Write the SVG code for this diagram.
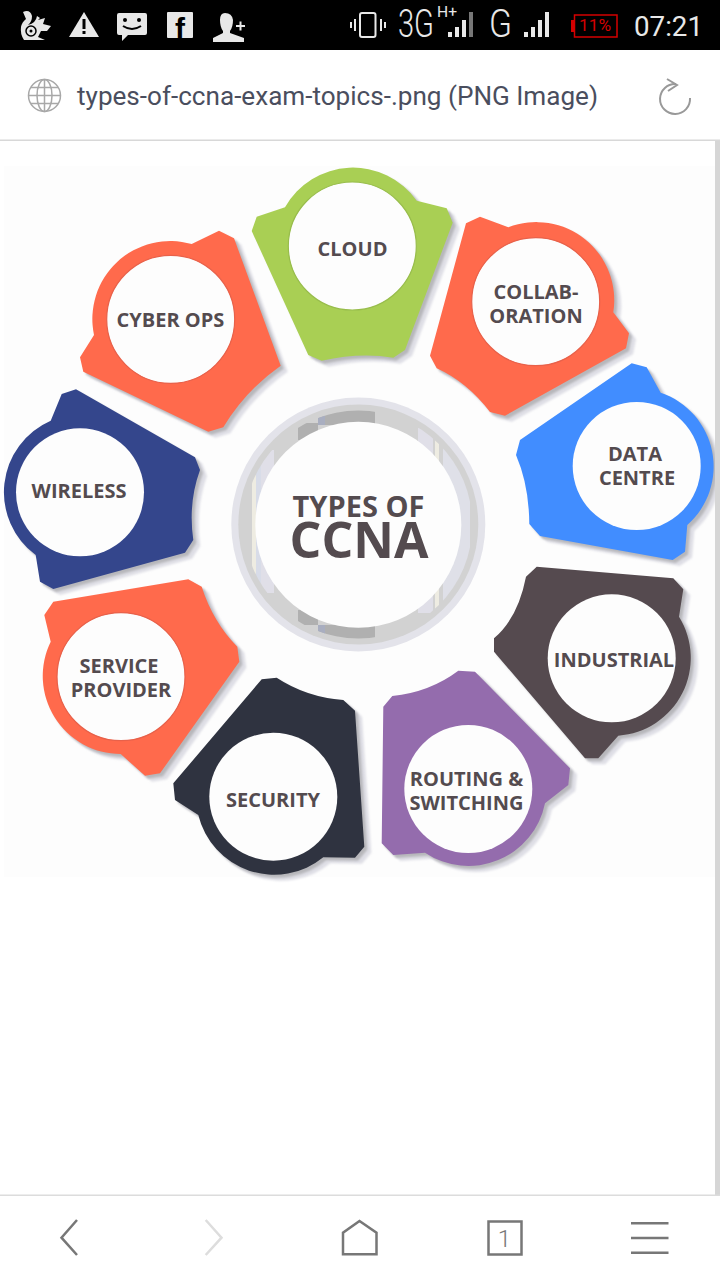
<svg xmlns="http://www.w3.org/2000/svg" xmlns:xlink="http://www.w3.org/1999/xlink" width="720" height="1280" viewBox="0 0 720 1280">
<style>
.lbl{font-family:"Open Sans","Liberation Sans",sans-serif;font-weight:700;font-size:20px;fill:#544b4f;text-anchor:middle}
.disc{fill:#fdfdfd}
.s1{fill:#dfdfe6;filter:url(#soft)}
.s2{fill:#b7b7bb;filter:url(#soft)}
.ui{font-family:Roboto,"Liberation Sans",sans-serif;fill:#e8e8e8}
.nav{fill:none;stroke:#777;stroke-width:2.500}
</style>
<defs>
<filter id="soft" x="-10%" y="-10%" width="120%" height="120%"><feGaussianBlur stdDeviation="0.8"/></filter>
<path id="p-cloud" d="M285 207.3A78 78 0 0 1 416.7 200.7L446.7 208.3L452.7 222.7L405 350L393.3 357.7Q360 352 321.7 360.7L308.3 355L251.7 231L256.7 216.7Z"/>
<path id="p-collab" d="M508.3 227.3A78 78 0 0 1 613.3 312.3L629 333.3L626 348.3L505 415.7L490 412Q467 382 436.7 368.3L430 355.7L466 223.3L480 216.7Z"/>
<path id="p-data" d="M660.7 392.7A78 78 0 0 1 687.3 525L685 551.7L672.7 560L540 536L529.3 524Q529 485 516 455L520 440L631.7 363.3L646.7 367.3Z"/>
<path id="p-ind" d="M679 616.7A78 78 0 0 1 618.3 735.7L598.3 758.3L585 758.3L494 651.7L494 638.3Q518 618 526 576.7L536.7 566.7L673.3 578.3L683.3 589.3Z"/>
<path id="p-rout" d="M545 803.3A78 78 0 0 1 425 852.7L393.3 855L381.7 843.3L383.3 706.7L392.3 696Q430 692 458.3 670.7L475 671.7L570 768.3L568.3 785Z"/>
<path id="p-sec" d="M323.3 857.3A78 78 0 0 1 198.3 815L175 800L173.3 783.3L261.7 679.3L276.7 677.7Q306 697 343.3 700L355 710.7L364.3 846.7L355 857.7Z"/>
<path id="p-serv" d="M50.7 641.7A78 78 0 0 0 120.7 754L145 775.7L160 773.3L239.3 661.7L237.3 646.7Q213 622 201.7 586.7L188.3 579.3L53.3 601.7L44.3 615Z"/>
<path id="p-wire" d="M50.7 420.7A78 78 0 0 0 35.7 555L40 581.7L53.3 589L185 552.7L193.3 540Q188 503 200 470L195 457.3L76 389.3L61.7 394Z"/>
<path id="p-cyber" d="M191.7 244A78 78 0 0 0 94 335L80 357.3L83.3 371.7L208.3 431.7L223.3 427.3Q246 390 280.7 365.7L234 238.3L219 230.7Z"/>
<clipPath id="ring-clip"><circle cx="358.3" cy="524.5" r="114"/></clipPath>
</defs>

<rect id="page" width="720" height="1280" fill="#fff"/>
<rect id="image-bg" x="4" y="166" width="711" height="711" fill="#fdfdfd"/>

<g id="center">
<circle cx="358.3" cy="524.5" r="127" fill="#e3e3ea"/>
<circle cx="358.3" cy="524.5" r="120" fill="#d2d2d2"/>
<g clip-path="url(#ring-clip)">
<rect x="318" y="405" width="57" height="20" fill="#b0b0b0"/>
<rect x="298" y="423" width="20" height="17" fill="#b0b0b0"/>
<rect x="318" y="405" width="7" height="20" fill="#a9aec0"/>
<rect x="298" y="610" width="20" height="15" fill="#b0b0b0"/>
<rect x="318" y="625" width="57" height="20" fill="#b0b0b0"/>
<rect x="318" y="625" width="7" height="20" fill="#a9aec0"/>
<rect x="418" y="428" width="15" height="185" fill="#e0dfe8"/>
<rect x="435" y="428" width="4" height="185" fill="#eeece2"/>
<rect x="443" y="428" width="27" height="185" fill="#dfe0e8"/>
<rect x="252" y="450" width="4" height="143" fill="#eeece2"/>
<rect x="256" y="450" width="5" height="143" fill="#d8dce8"/>
<rect x="261" y="450" width="13" height="143" fill="#e0dfe8"/>
</g>
<circle cx="358.3" cy="524.8" r="103" fill="#fdfdfd"/>
<text class="lbl" x="358.5" y="517" style="font-size:29px">TYPES OF</text>
<text class="lbl" x="359" y="558" style="font-size:50px">CCNA</text>
</g>

<g id="node-cloud">
<use href="#p-cloud" class="s1" x="7" y="6"/><use href="#p-cloud" class="s2" x="3" y="3"/>
<use href="#p-cloud" fill="#a9cf54"/>
<circle class="disc" cx="352.3" cy="246" r="64" stroke="#98bd4c" stroke-width="1.200"/>
<text class="lbl" x="352.5" y="256">CLOUD</text>
</g>
<g id="node-collaboration">
<use href="#p-collab" class="s1" x="7" y="6"/><use href="#p-collab" class="s2" x="3" y="3"/>
<use href="#p-collab" fill="#ff6a4c"/>
<circle class="disc" cx="535.7" cy="301.7" r="64" stroke="#e8614a" stroke-width="1.200"/>
<text class="lbl" x="536" y="299">COLLAB-</text>
<text class="lbl" x="536" y="323">ORATION</text>
</g>
<g id="node-data-centre">
<use href="#p-data" class="s1" x="7" y="6"/><use href="#p-data" class="s2" x="3" y="3"/>
<use href="#p-data" fill="#418dff"/>
<circle class="disc" cx="636.7" cy="466" r="64"/>
<text class="lbl" x="635" y="461">DATA</text>
<text class="lbl" x="637" y="485">CENTRE</text>
</g>
<g id="node-industrial">
<use href="#p-ind" class="s1" x="7" y="6"/><use href="#p-ind" class="s2" x="3" y="3"/>
<use href="#p-ind" fill="#554a4f"/>
<circle class="disc" cx="611.7" cy="658.3" r="64"/>
<text class="lbl" x="614" y="667">INDUSTRIAL</text>
</g>
<g id="node-routing-switching">
<use href="#p-rout" class="s1" x="7" y="6"/><use href="#p-rout" class="s2" x="3" y="3"/>
<use href="#p-rout" fill="#946cad"/>
<circle class="disc" cx="468.3" cy="789" r="64"/>
<text class="lbl" x="466.5" y="786">ROUTING &amp;</text>
<text class="lbl" x="466.5" y="810">SWITCHING</text>
</g>
<g id="node-security">
<use href="#p-sec" class="s1" x="7" y="6"/><use href="#p-sec" class="s2" x="3" y="3"/>
<use href="#p-sec" fill="#2f3340"/>
<circle class="disc" cx="273.3" cy="796.7" r="64"/>
<text class="lbl" x="273" y="807">SECURITY</text>
</g>
<g id="node-service-provider">
<use href="#p-serv" class="s1" x="7" y="6"/><use href="#p-serv" class="s2" x="3" y="3"/>
<use href="#p-serv" fill="#ff6a4c"/>
<circle class="disc" cx="121" cy="676.7" r="64" stroke="#e8614a" stroke-width="1.200"/>
<text class="lbl" x="119" y="673">SERVICE</text>
<text class="lbl" x="121" y="697">PROVIDER</text>
</g>
<g id="node-wireless">
<use href="#p-wire" class="s1" x="7" y="6"/><use href="#p-wire" class="s2" x="3" y="3"/>
<use href="#p-wire" fill="#34468c"/>
<circle class="disc" cx="80" cy="492.3" r="64"/>
<text class="lbl" x="79" y="498">WIRELESS</text>
</g>
<g id="node-cyber-ops">
<use href="#p-cyber" class="s1" x="7" y="6"/><use href="#p-cyber" class="s2" x="3" y="3"/>
<use href="#p-cyber" fill="#ff6a4c"/>
<circle class="disc" cx="170.7" cy="319.3" r="64" stroke="#e8614a" stroke-width="1.200"/>
<text class="lbl" x="170.5" y="327">CYBER OPS</text>
</g>

<g id="scrollbar"><rect x="715" y="141" width="5" height="1054" fill="#d6d6d6"/></g>

<g id="status-bar">
<rect width="720" height="50" fill="#000"/>
<g id="icon-squirrel" fill="#e8e8e8">
<path d="M23 12Q30 9 32 16Q32 22 28 25Q36 23 37 16L40 18L38 20L45 18L43 24L51 26L47 31L41 31L38 37L45 40L24 40Q20 34 21 27Q22 22 26 19Z"/>
<circle cx="31" cy="31" r="5" fill="none" stroke="#000" stroke-width="1.500"/>
<circle cx="31" cy="31" r="1.500" fill="#000"/>
</g>
<g id="icon-warning">
<path d="M84 12L99 37L69 37Z" fill="#e8e8e8"/>
<rect x="82.500" y="19" width="3" height="10" fill="#000"/><rect x="82.500" y="31" width="3" height="3" fill="#000"/>
</g>
<g id="icon-message">
<path d="M119 13H145Q147 13 147 15V33Q147 35 145 35H128L122 41V35H119Q117 35 117 33V15Q117 13 119 13Z" fill="#e8e8e8"/>
<circle cx="125" cy="20" r="2"/><circle cx="139" cy="20" r="2"/>
<path d="M123 26Q132 32 141 26" fill="none" stroke="#000" stroke-width="2"/>
</g>
<g id="icon-facebook">
<rect x="167" y="12" width="26" height="26" rx="1" fill="#e8e8e8"/>
<text x="180" y="39" style="font-family:'Liberation Sans',sans-serif;font-weight:700;font-size:30px" fill="#000" text-anchor="middle">f</text>
</g>
<g id="icon-person" fill="#e8e8e8">
<path d="M225 13Q232 13 233 20Q233 27 230 31V33L244 38V42H213V38L223 33V31Q220 27 220 20Q220 13 225 13Z"/>
<rect x="236" y="25" width="9" height="2"/><rect x="239.500" y="21.500" width="2" height="9"/>
</g>
<g id="icon-vibrate" fill="none" stroke="#e8e8e8">
<rect x="360" y="13" width="15.500" height="24" rx="2" stroke-width="2"/>
<path d="M355 19V31M351 22V28M381 19V31M385 22V28" stroke-width="2"/>
</g>
<text class="ui" x="398" y="37" style="font-size:38px;font-weight:300" textLength="36" lengthAdjust="spacingAndGlyphs">3G</text>
<text class="ui" x="437" y="17" style="font-size:14px" textLength="20" lengthAdjust="spacingAndGlyphs">H+</text>
<g id="signal-1">
<rect x="448" y="32" width="4" height="5" fill="#e8e8e8"/><rect x="455" y="27" width="4" height="10" fill="#e8e8e8"/><rect x="462" y="20" width="4" height="17" fill="#e8e8e8"/><rect x="469" y="12" width="4" height="25" fill="#777"/>
</g>
<text class="ui" x="489" y="37" style="font-size:38px;font-weight:300" textLength="23" lengthAdjust="spacingAndGlyphs">G</text>
<g id="signal-2" fill="#e8e8e8">
<rect x="524" y="32" width="4" height="5"/><rect x="531" y="27" width="4" height="10"/><rect x="538" y="20" width="4" height="17"/><rect x="545" y="12" width="4" height="25"/>
</g>
<g id="battery">
<rect x="574.500" y="15" width="42.500" height="22" fill="none" stroke="#d40000" stroke-width="1.500"/>
<rect x="571" y="20" width="3" height="12" fill="#d40000"/>
<text x="595" y="31" style="font-family:Roboto,'Liberation Sans',sans-serif;font-size:16px" fill="#d40000" text-anchor="middle" textLength="32" lengthAdjust="spacingAndGlyphs">11%</text>
</g>
<text class="ui" x="634" y="36" style="font-size:28px" textLength="69" lengthAdjust="spacingAndGlyphs">07:21</text>
</g>

<g id="address-bar">
<rect x="0" y="139.500" width="720" height="1.500" fill="#d8d8d8"/>
<g id="icon-globe" fill="none" stroke="#a8a8a8" stroke-width="1.500">
<circle cx="44.500" cy="95.500" r="16"/>
<ellipse cx="44.500" cy="95.500" rx="7.500" ry="16"/>
<path d="M44.500 79.500V111.500M28.500 95.500H60.500M31 87.500H58M31 103.500H58"/>
</g>
<text x="77" y="105" style="font-family:Roboto,'Liberation Sans',sans-serif;font-size:26px" fill="#4a4e5e" textLength="521" lengthAdjust="spacingAndGlyphs">types-of-ccna-exam-topics-.png (PNG Image)</text>
<g id="icon-reload" fill="none" stroke="#999" stroke-width="2">
<path d="M676 84A15 15 0 1 0 690 98"/>
<path d="M667 79L677 85L668 91"/>
</g>
</g>

<g id="bottom-bar">
<rect x="0" y="1194.500" width="720" height="1.500" fill="#dcdcdc"/>
<path class="nav" d="M77 1220L61.500 1237.700L77 1255"/>
<path class="nav" style="stroke:#ddd" d="M205.700 1220L221.500 1237.700L205.700 1255"/>
<path class="nav" d="M343 1254.300V1232.700L359.500 1221L376.500 1232.700V1254.300Z"/>
<rect class="nav" x="488.500" y="1221.500" width="33" height="33"/>
<text x="504.500" y="1247" style="font-family:Roboto,'Liberation Sans',sans-serif;font-size:24px;font-weight:300" fill="#777" text-anchor="middle">1</text>
<path class="nav" d="M631 1223.300H668.500M631 1238H668.500M631 1252.700H668.500"/>
</g>
</svg>
